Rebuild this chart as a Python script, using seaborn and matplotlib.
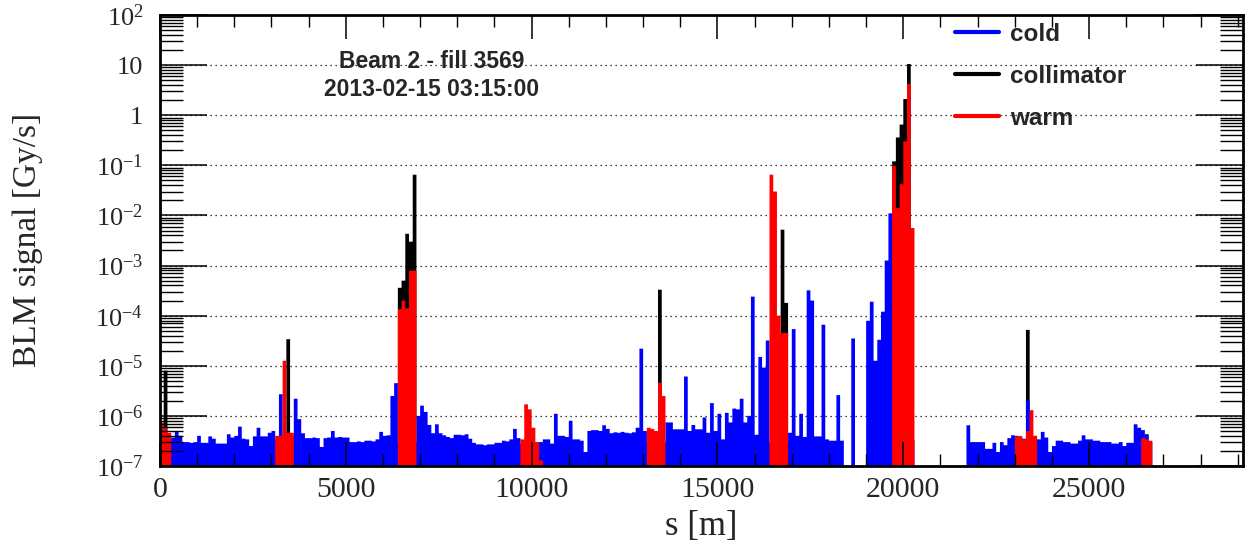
import numpy as np
import pandas as pd
import matplotlib
matplotlib.use("Agg")
import matplotlib.pyplot as plt
from matplotlib.lines import Line2D
from matplotlib.ticker import LogLocator, NullFormatter
import seaborn as sns

# ---------------- data (BLM signal in Gy/s, 100 m bins along s) ----------------
BIN_M = 100.0

# cold-magnet monitors, one value per 100 m bin starting at s = 0 (0 = no monitor)
cold_values = [
    3e-7, 3e-7, 3e-7, 3.7e-7, 5e-7, 4e-7, 3e-7, 3e-7, 2.9e-7, 3e-7,            # 0
    4e-7, 2.9e-7, 2.9e-7, 3.9e-7, 3.5e-7, 2.8e-7, 2.8e-7, 2.8e-7, 4.3e-7, 3.7e-7,  # 1000
    4e-7, 6.1e-7, 3.5e-7, 3.4e-7, 2.5e-7, 3.9e-7, 5.8e-7, 3.9e-7, 3.9e-7, 4.6e-7,  # 2000
    5e-7, 3.5e-7, 2.7e-6, 4e-7, 4e-7, 4e-7, 2.2e-6, 8.6e-7, 4.5e-7, 3.6e-7,        # 3000
    3.6e-7, 3.7e-7, 3.6e-7, 2.4e-7, 3.6e-7, 3.7e-7, 5e-7, 3.7e-7, 3.8e-7, 3.7e-7,  # 4000
    3.7e-7, 3e-7, 3e-7, 3.1e-7, 3e-7, 3.2e-7, 3.2e-7, 3.1e-7, 3.4e-7, 4.8e-7,      # 5000
    4e-7, 4.1e-7, 2.5e-6, 4.5e-6, 3e-7, 3e-7, 3e-7, 3e-7, 3e-7, 1e-6,              # 6000
    1.6e-6, 1.2e-6, 6.6e-7, 4.5e-7, 6.8e-7, 4.5e-7, 4.1e-7, 3.8e-7, 3.6e-7, 4.2e-7,  # 7000
    4.2e-7, 4.1e-7, 4.3e-7, 3.5e-7, 2.9e-7, 2.7e-7, 2.7e-7, 2.6e-7, 2.7e-7, 2.7e-7,  # 8000
    2.9e-7, 2.9e-7, 3.2e-7, 3.1e-7, 3.4e-7, 5.5e-7, 3.6e-7, 2.8e-7, 2.8e-7, 2.8e-7,  # 9000
    2.8e-7, 3e-7, 3e-7, 3.4e-7, 3.4e-7, 2.8e-7, 1.1e-6, 4e-7, 4e-7, 3.8e-7,        # 10000
    8e-7, 3.4e-7, 3.4e-7, 3.2e-7, 1.9e-7, 5e-7, 5.2e-7, 5.2e-7, 5e-7, 6.5e-7,      # 11000
    5.5e-7, 4.5e-7, 4.7e-7, 4.6e-7, 4.8e-7, 4.6e-7, 4.5e-7, 4.7e-7, 5.8e-7, 2.2e-5,  # 12000
    5e-7, 3e-7, 3e-7, 3e-7, 3e-7, 3e-7, 7.4e-7, 7.4e-7, 5.4e-7, 5.4e-7,            # 13000
    5.4e-7, 6.1e-6, 5e-7, 6.6e-7, 5.4e-7, 5.4e-7, 9.3e-7, 4.6e-7, 1.8e-6, 5e-7,    # 14000
    1.1e-6, 3.4e-7, 1.15e-6, 7.4e-7, 1.4e-6, 1.35e-6, 2.2e-6, 7.4e-7, 1e-6, 2.4e-4,  # 15000
    4.2e-7, 1.5e-5, 9.2e-6, 3.2e-5, 3e-7, 3e-7, 3e-7, 3e-7, 3e-7, 4.6e-7,          # 16000
    5.4e-5, 4e-7, 1.1e-6, 3.8e-7, 3.2e-4, 2e-4, 3.9e-7, 3.9e-7, 6.6e-5, 3.4e-7,    # 17000
    3.2e-7, 3.2e-7, 2.6e-6, 3.2e-7, 0, 0, 3.5e-5, 0, 0, 0,                         # 18000
    7.9e-5, 1.9e-4, 1.26e-5, 3.3e-5, 1.2e-4, 1.26e-3, 1.1e-2, 3e-7, 3e-7, 3e-7,   # 19000
    3e-7, 3e-7, 3.3e-7, 0, 0, 0, 0, 0, 0, 0,                                       # 20000
    0, 0, 0, 0, 0, 0, 0, 6.5e-7, 3e-7, 3e-7,                                       # 21000
    3e-7, 3e-7, 2.2e-7, 2.2e-7, 2.9e-7, 1.9e-7, 3e-7, 2.6e-7, 3.6e-7, 4.1e-7,      # 22000
    4e-7, 3.9e-7, 3.5e-7, 2e-6, 3.5e-7, 3.5e-7, 3.4e-7, 4.8e-7, 3.7e-7, 1.9e-7,    # 23000
    2.5e-7, 3.2e-7, 3.2e-7, 3e-7, 3e-7, 2.8e-7, 2.8e-7, 3.2e-7, 4.1e-7, 3.4e-7,    # 24000
    3.4e-7, 3.2e-7, 3.2e-7, 3e-7, 3e-7, 3e-7, 2.8e-7, 2.8e-7, 3e-7, 2.5e-7,        # 25000
    2.9e-7, 2.9e-7, 6.8e-7, 5.8e-7, 5.2e-7, 4e-7, 3e-7,                            # 26000
]

# warm-element monitors: bin start position [m] and value
warm_s = [0, 100, 200,
          3100, 3200, 3300, 3400, 3500,
          6400, 6500, 6600, 6700, 6800,
          9700, 9800, 9900, 10000, 10100, 10200,
          13100, 13200, 13300, 13400, 13500,
          16400, 16500, 16600, 16700, 16800,
          19700, 19800, 19900, 20000, 20100, 20200,
          23000, 23100, 23200, 23300, 23400, 23500,
          26400, 26500, 26600]
warm_values = [7.4e-7, 6e-7, 4.6e-7,
               4e-7, 4e-7, 1.26e-5, 4.6e-7, 4.6e-7,
               1.35e-4, 2e-4, 1.4e-4, 7.9e-4, 7.9e-4,
               3.4e-7, 1.7e-6, 1.35e-6, 5.8e-7, 3e-7, 1.3e-7,
               5.8e-7, 5.5e-7, 5e-7, 4.6e-6, 2.5e-6,
               6.5e-2, 3e-2, 1e-4, 4.5e-5, 4.5e-5,
               9.7e-2, 1.4e-2, 4.2e-2, 0.3, 4.2, 5.6e-3,
               3.9e-7, 3.9e-7, 3.4e-7, 5e-7, 1.3e-6, 4e-7,
               3.6e-7, 3.4e-7, 3.2e-7]

# collimator monitors: bin start position [m] and value
coll_s = [100, 3400,
          6400, 6500, 6600, 6700, 6800,
          13400,
          16700, 16800,
          19700, 19800, 19900, 20000, 20100,
          23300, 26500]
coll_values = [8e-6, 3.4e-5,
               3.6e-4, 5e-4, 4.3e-3, 3e-3, 6.5e-2,
               3.3e-4,
               5.2e-3, 1.8e-4,
               0.12, 0.36, 0.65, 2.1, 10.5,
               5.2e-5, 4.3e-7]

series_names = ["cold", "collimator", "warm"]
series_colors = ["#0000ff", "#000000", "#ff0000"]

x_tick_values = [0, 5000, 10000, 15000, 20000, 25000]
x_tick_labels = ["0", "5000", "10000", "15000", "20000", "25000"]
y_tick_values = [1e-7, 1e-6, 1e-5, 1e-4, 1e-3, 1e-2, 1e-1, 1, 10, 100]
y_tick_labels = [r"$10^{-7}$", r"$10^{-6}$", r"$10^{-5}$", r"$10^{-4}$",
                 r"$10^{-3}$", r"$10^{-2}$", r"$10^{-1}$", "1", "10", r"$10^{2}$"]

title_lines = ["Beam 2 - fill 3569", "2013-02-15 03:15:00"]
x_label = "s [m]"
y_label = "BLM signal [Gy/s]"
S_MAX = 29140

# ---------------- style ----------------
sns.set_style("ticks")
plt.rcParams["font.family"] = ["Liberation Serif", "DejaVu Sans"]
plt.rcParams["mathtext.fontset"] = "custom"
plt.rcParams["mathtext.rm"] = "Liberation Serif"
plt.rcParams["mathtext.it"] = "Liberation Serif:italic"
plt.rcParams["mathtext.bf"] = "Liberation Serif:bold"

W, H = 1250, 550
fig = plt.figure(figsize=(W / 100, H / 100), dpi=100)
L, R, T, B = 160, 1243, 15, 466
ax = fig.add_axes([L / W, 1 - B / H, (R - L) / W, (B - T) / H])

n_bins = len(cold_values)
s_end = BIN_M * n_bins
cold_s = [BIN_M * i for i in range(n_bins)]

layers = [
    (coll_s, coll_values, series_colors[1], 2),
    (cold_s, cold_values, series_colors[0], 3),
    (warm_s, warm_values, series_colors[2], 4),
]
for pos, vals, col, z in layers:
    df = pd.DataFrame({"s": np.asarray(pos, dtype=float) + BIN_M / 2,
                       "signal": np.asarray(vals, dtype=float)})
    sns.histplot(data=df, x="s", weights="signal", binwidth=BIN_M,
                 binrange=(0, s_end), element="step", fill=True, color=col,
                 alpha=1, linewidth=0, ax=ax, zorder=z)

ax.set_yscale("log")
ax.set_ylim(1e-7, 1e2)
ax.set_xlim(0, S_MAX)

# dotted horizontal grid (below data)
for v in y_tick_values[1:-1]:
    ax.axhline(v, color="black", lw=0.9, linestyle=(0, (1, 3)), zorder=0.5)

ax.set_xticks(x_tick_values, x_tick_labels)
ax.set_xticks(np.arange(0, S_MAX, 1000), minor=True)
ax.set_yticks(y_tick_values, y_tick_labels)
ax.yaxis.set_minor_locator(LogLocator(base=10, subs=range(2, 10), numticks=50))
ax.yaxis.set_minor_formatter(NullFormatter())

ax.tick_params(which="both", direction="in", top=True, right=True, color="black")
ax.tick_params(axis="y", which="major", length=34, width=1.1, labelsize=19, pad=12)
ax.tick_params(axis="y", which="minor", length=16.5, width=1.0)
ax.tick_params(axis="x", which="major", length=17, width=1.1, labelsize=21.5, pad=8)
ax.tick_params(axis="x", which="minor", length=8.5, width=1.0)

ax.xaxis.set_zorder(10)
ax.yaxis.set_zorder(10)
for sp in ax.spines.values():
    sp.set_linewidth(2)
    sp.set_color("black")
    sp.set_zorder(11)
    sp.set_visible(True)

ax.set_xlabel(x_label, fontsize=25, va="center")
ax.xaxis.set_label_coords(0.5, (B - 526) / (B - T))
ax.set_ylabel(y_label, fontsize=24, va="center")
ax.yaxis.set_label_coords((28 - L) / (R - L), 1 - (240 - T) / (B - T))

fig.text(432 / W, 1 - 61 / H, title_lines[0], ha="center", va="center",
         fontsize=16.5, fontweight="bold", family="Liberation Sans")
fig.text(432 / W, 1 - 90 / H, title_lines[1], ha="center", va="center",
         fontsize=16.5, fontweight="bold", family="Liberation Sans")

handles = [Line2D([], [], color=c, lw=3) for c in series_colors]
fig.legend(handles, series_names, loc="upper left",
           bbox_to_anchor=(955 / W, 1 - 23 / H), frameon=False,
           prop={"family": "Liberation Sans", "weight": "bold", "size": 17.5},
           handlelength=1.8, handletextpad=0.45, labelspacing=0.78,
           borderpad=0, borderaxespad=0)

fig.savefig("out.png", dpi=100)
